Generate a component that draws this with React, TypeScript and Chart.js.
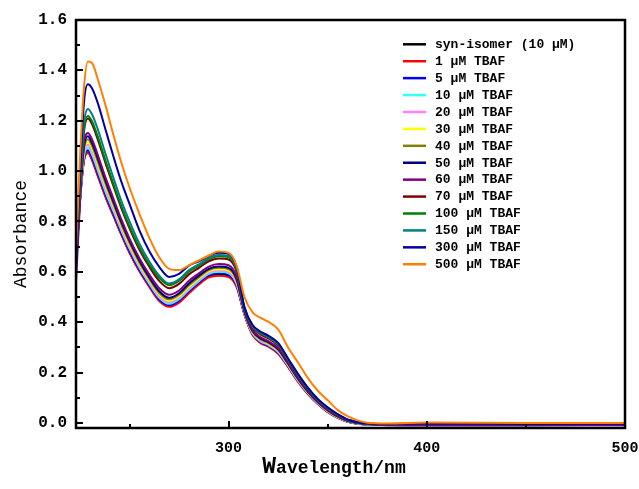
import React, { useEffect, useRef } from "react";
import { Chart, registerables } from "chart.js";

Chart.register(...registerables);

// ---------- data ----------
const wavelengths = [223, 225, 227, 229, 231, 234, 238, 242, 246, 250, 255, 260, 265, 270, 275, 280, 285, 290, 295, 300, 304, 308, 312, 316, 320, 325, 330, 335, 340, 345, 350, 355, 360, 370, 380, 400, 450, 500];

const synIsomer = [0.63, 0.881, 1.042, 1.075, 1.048, 0.983, 0.898, 0.822, 0.747, 0.678, 0.604, 0.543, 0.487, 0.465, 0.482, 0.519, 0.554, 0.582, 0.590, 0.584, 0.544, 0.432, 0.352, 0.320, 0.305, 0.277, 0.224, 0.165, 0.116, 0.076, 0.044, 0.021, 0.005, -0.006, -0.007, -0.006, -0.007, -0.006];
const tbaf1 = [0.63, 0.88, 1.04, 1.072, 1.045, 0.98, 0.895, 0.82, 0.745, 0.676, 0.602, 0.54, 0.484, 0.461, 0.478, 0.515, 0.55, 0.578, 0.585, 0.579, 0.54, 0.43, 0.35, 0.318, 0.303, 0.275, 0.222, 0.163, 0.115, 0.075, 0.043, 0.02, 0.005, -0.006, -0.007, -0.006, -0.007, -0.006];
const tbaf5 = [0.64, 0.884, 1.049, 1.083, 1.056, 0.992, 0.906, 0.829, 0.753, 0.684, 0.609, 0.547, 0.491, 0.468, 0.486, 0.524, 0.558, 0.587, 0.594, 0.588, 0.548, 0.433, 0.354, 0.323, 0.307, 0.279, 0.225, 0.166, 0.118, 0.077, 0.045, 0.022, 0.006, -0.006, -0.007, -0.006, -0.007, -0.006];
const tbaf10 = [0.65, 0.888, 1.058, 1.094, 1.068, 1.003, 0.916, 0.839, 0.762, 0.692, 0.616, 0.553, 0.497, 0.473, 0.491, 0.529, 0.563, 0.592, 0.600, 0.594, 0.553, 0.435, 0.356, 0.325, 0.310, 0.282, 0.227, 0.168, 0.119, 0.078, 0.046, 0.022, 0.006, -0.005, -0.006, -0.005, -0.006, -0.006];
const tbaf20 = [0.645, 0.892, 1.068, 1.105, 1.079, 1.015, 0.927, 0.848, 0.770, 0.699, 0.623, 0.559, 0.503, 0.479, 0.497, 0.535, 0.569, 0.597, 0.605, 0.599, 0.558, 0.437, 0.359, 0.328, 0.313, 0.284, 0.229, 0.170, 0.121, 0.079, 0.047, 0.023, 0.007, -0.005, -0.006, -0.005, -0.006, -0.006];
const tbaf30 = [0.64, 0.896, 1.077, 1.116, 1.091, 1.026, 0.938, 0.858, 0.779, 0.707, 0.630, 0.566, 0.510, 0.485, 0.503, 0.541, 0.574, 0.602, 0.610, 0.605, 0.562, 0.438, 0.361, 0.331, 0.315, 0.287, 0.232, 0.172, 0.122, 0.081, 0.048, 0.024, 0.008, -0.005, -0.006, -0.005, -0.006, -0.005];
const tbaf40 = [0.635, 0.900, 1.086, 1.127, 1.102, 1.038, 0.948, 0.867, 0.787, 0.715, 0.637, 0.572, 0.516, 0.491, 0.509, 0.547, 0.579, 0.607, 0.616, 0.611, 0.567, 0.440, 0.364, 0.333, 0.318, 0.290, 0.234, 0.174, 0.124, 0.082, 0.049, 0.025, 0.008, -0.005, -0.006, -0.005, -0.006, -0.005];
const tbaf50 = [0.60, 0.904, 1.095, 1.138, 1.113, 1.050, 0.959, 0.876, 0.795, 0.723, 0.644, 0.578, 0.523, 0.497, 0.515, 0.554, 0.585, 0.612, 0.621, 0.616, 0.572, 0.442, 0.366, 0.336, 0.321, 0.292, 0.236, 0.176, 0.125, 0.083, 0.051, 0.026, 0.009, -0.004, -0.006, -0.005, -0.006, -0.005];
const tbaf60 = [0.557, 0.87, 1.107, 1.151, 1.128, 1.064, 0.972, 0.888, 0.806, 0.732, 0.654, 0.589, 0.535, 0.509, 0.526, 0.565, 0.594, 0.621, 0.631, 0.626, 0.580, 0.445, 0.370, 0.341, 0.325, 0.297, 0.239, 0.179, 0.128, 0.085, 0.053, 0.028, 0.009, -0.004, -0.009, -0.010, -0.010, -0.009];
const tbaf70 = [0.63, 0.930, 1.155, 1.209, 1.188, 1.125, 1.029, 0.938, 0.850, 0.773, 0.688, 0.620, 0.564, 0.535, 0.552, 0.590, 0.616, 0.642, 0.653, 0.649, 0.600, 0.453, 0.380, 0.352, 0.336, 0.307, 0.248, 0.187, 0.134, 0.090, 0.057, 0.031, 0.012, -0.003, -0.005, -0.004, -0.005, -0.004];
const tbaf100 = [0.64, 0.934, 1.164, 1.219, 1.199, 1.137, 1.039, 0.947, 0.858, 0.781, 0.697, 0.629, 0.576, 0.547, 0.564, 0.601, 0.625, 0.650, 0.662, 0.658, 0.608, 0.456, 0.384, 0.356, 0.340, 0.312, 0.251, 0.190, 0.136, 0.092, 0.059, 0.033, 0.013, -0.003, -0.005, -0.004, -0.005, -0.004];
const tbaf150 = [0.65, 0.944, 1.187, 1.247, 1.227, 1.166, 1.066, 0.970, 0.879, 0.800, 0.712, 0.641, 0.585, 0.554, 0.570, 0.607, 0.630, 0.655, 0.667, 0.663, 0.612, 0.457, 0.386, 0.359, 0.343, 0.314, 0.253, 0.192, 0.138, 0.093, 0.060, 0.034, 0.013, -0.002, -0.004, -0.003, -0.004, -0.004];
const tbaf300 = [0.62, 0.98, 1.27, 1.345, 1.33, 1.27, 1.162, 1.055, 0.955, 0.87, 0.765, 0.682, 0.62, 0.58, 0.592, 0.625, 0.642, 0.663, 0.676, 0.672, 0.62, 0.46, 0.39, 0.363, 0.347, 0.318, 0.256, 0.195, 0.14, 0.095, 0.062, 0.035, 0.014, -0.002, -0.004, -0.003, -0.004, -0.004];
const tbaf500 = [0.67, 1.05, 1.33, 1.435, 1.43, 1.365, 1.258, 1.14, 1.03, 0.935, 0.83, 0.735, 0.658, 0.612, 0.607, 0.626, 0.645, 0.665, 0.681, 0.675, 0.625, 0.50, 0.44, 0.418, 0.402, 0.372, 0.30, 0.24, 0.178, 0.128, 0.09, 0.052, 0.027, 0.001, -0.002, 0.002, 0.0, 0.0];

const seriesLabels = [
  "syn-isomer (10 μM)",
  "1 μM TBAF",
  "5 μM TBAF",
  "10 μM TBAF",
  "20 μM TBAF",
  "30 μM TBAF",
  "40 μM TBAF",
  "50 μM TBAF",
  "60 μM TBAF",
  "70 μM TBAF",
  "100 μM TBAF",
  "150 μM TBAF",
  "300 μM TBAF",
  "500 μM TBAF",
];
const seriesValues = [synIsomer, tbaf1, tbaf5, tbaf10, tbaf20, tbaf30, tbaf40, tbaf50, tbaf60, tbaf70, tbaf100, tbaf150, tbaf300, tbaf500];
const seriesColors = ["#000000", "#FF0000", "#0000FF", "#33FFFF", "#FF80FF", "#FFFF00", "#808000", "#000080", "#800080", "#800000", "#008000", "#008080", "#0000A0", "#FF8000"];

const xMin = 223;
const xMax = 500;
const yMin = -0.02;
const yMax = 1.6;
const xMajorTicks = [300, 400, 500];
const xMinorTicks = [250, 350, 450];
const yMajorTicks = [0, 0.2, 0.4, 0.6, 0.8, 1.0, 1.2, 1.4, 1.6];
const yMinorTicks = [0.1, 0.3, 0.5, 0.7, 0.9, 1.1, 1.3, 1.5];

const xTitleLead = "W";
const xTitleRest = "avelength/nm";
const yTitle = "Absorbance";

const MONO = '"Liberation Mono", "DejaVu Sans Mono", monospace';

const decorPlugin = {
  id: "decor",
  afterDatasetsDraw(chart: any) {
    const { ctx, chartArea: a, scales } = chart;
    const x = scales.x;
    const y = scales.y;
    ctx.save();
    ctx.strokeStyle = "#000";
    // frame
    ctx.lineWidth = 2.5;
    ctx.beginPath();
    ctx.rect(a.left, a.top, a.right - a.left, a.bottom - a.top);
    ctx.stroke();
    // ticks (inward)
    ctx.lineWidth = 2;
    ctx.beginPath();
    for (const v of yMajorTicks) {
      const py = Math.round(y.getPixelForValue(v));
      ctx.moveTo(a.left, py);
      ctx.lineTo(a.left + 7, py);
    }
    for (const v of yMinorTicks) {
      const py = Math.round(y.getPixelForValue(v));
      ctx.moveTo(a.left, py);
      ctx.lineTo(a.left + 4, py);
    }
    for (const v of xMajorTicks) {
      const px = Math.round(x.getPixelForValue(v));
      ctx.moveTo(px, a.bottom);
      ctx.lineTo(px, a.bottom - 7);
    }
    for (const v of xMinorTicks) {
      const px = Math.round(x.getPixelForValue(v));
      ctx.moveTo(px, a.bottom);
      ctx.lineTo(px, a.bottom - 4);
    }
    ctx.stroke();

    // legend
    const lx0 = 403;
    const lx1 = 426;
    const tx = 435;
    const ty0 = 44.3;
    const dy = 16.92;
    ctx.font = "bold 13px " + MONO;
    ctx.textBaseline = "middle";
    ctx.textAlign = "left";
    chart.data.datasets.forEach((ds: any, i: number) => {
      const cy = ty0 + i * dy;
      ctx.strokeStyle = ds.borderColor;
      ctx.lineWidth = 2.5;
      ctx.beginPath();
      ctx.moveTo(lx0, cy);
      ctx.lineTo(lx1, cy);
      ctx.stroke();
      ctx.fillStyle = "#000";
      ctx.fillText(ds.label, tx, cy + 0.5);
    });
    ctx.restore();
  },
  afterDraw(chart: any) {
    const { ctx } = chart;
    ctx.save();
    ctx.fillStyle = "#000";
    // x title
    ctx.textBaseline = "alphabetic";
    ctx.textAlign = "left";
    ctx.font = "bold 23px " + MONO;
    const wW = ctx.measureText(xTitleLead).width;
    ctx.font = "bold 18px " + MONO;
    const wR = ctx.measureText(xTitleRest).width;
    const startX = 334 - (wW + wR) / 2;
    ctx.font = "bold 23px " + MONO;
    ctx.fillText(xTitleLead, startX, 473);
    ctx.font = "bold 18px " + MONO;
    ctx.fillText(xTitleRest, startX + wW, 473);
    // y title
    ctx.translate(21, 234);
    ctx.rotate(-Math.PI / 2);
    ctx.textAlign = "center";
    ctx.textBaseline = "middle";
    ctx.font = "18px " + MONO;
    ctx.fillText(yTitle, 0, 0);
    ctx.restore();
  },
};

export default function App() {
  const canvasRef = useRef<HTMLCanvasElement | null>(null);

  useEffect(() => {
    if (!canvasRef.current) return;
    const n = seriesValues.length;
    const datasets = seriesValues.map((vals, i) => ({
      label: seriesLabels[i],
      data: wavelengths.map((w, j) => ({ x: w, y: vals[j] })),
      borderColor: seriesColors[i],
      backgroundColor: seriesColors[i],
      borderWidth: 2,
      pointRadius: 0,
      pointHoverRadius: 0,
      cubicInterpolationMode: "monotone" as const,
      fill: false,
      order: n - 1 - i,
    }));

    const chart = new Chart(canvasRef.current, {
      type: "line",
      data: { datasets },
      options: {
        animation: false,
        responsive: true,
        maintainAspectRatio: false,
        devicePixelRatio: 1,
        layout: { padding: { top: 20, right: 14, left: 0, bottom: 0 } },
        plugins: {
          legend: { display: false },
          tooltip: { enabled: false },
          title: { display: false },
        },
        scales: {
          x: {
            type: "linear",
            min: xMin,
            max: xMax,
            grid: { display: false, drawTicks: false },
            border: { display: false },
            afterBuildTicks: (s: any) => {
              s.ticks = xMajorTicks.map((v) => ({ value: v }));
            },
            afterFit: (s: any) => {
              s.height = 61;
              s.paddingLeft = 0;
              s.paddingRight = 0;
            },
            ticks: {
              padding: 11,
              color: "#000",
              maxRotation: 0,
              autoSkip: false,
              font: { family: MONO, size: 15, weight: "bold" },
              callback: (v: any) => String(v),
            },
          },
          y: {
            type: "linear",
            min: yMin,
            max: yMax,
            grid: { display: false, drawTicks: false },
            border: { display: false },
            afterBuildTicks: (s: any) => {
              s.ticks = yMajorTicks.map((v) => ({ value: v }));
            },
            afterFit: (s: any) => {
              s.width = 76;
              s.paddingTop = 0;
              s.paddingBottom = 0;
            },
            ticks: {
              padding: 9,
              color: "#000",
              autoSkip: false,
              font: { family: MONO, size: 16, weight: "bold" },
              callback: (v: any) => Number(v).toFixed(1),
            },
          },
        },
      },
      plugins: [decorPlugin],
    });
    return () => chart.destroy();
  }, []);

  return (
    <div style={{ position: "absolute", left: 0, top: 0, width: 639, height: 489, background: "#fff" }}>
      <canvas ref={canvasRef} />
    </div>
  );
}
